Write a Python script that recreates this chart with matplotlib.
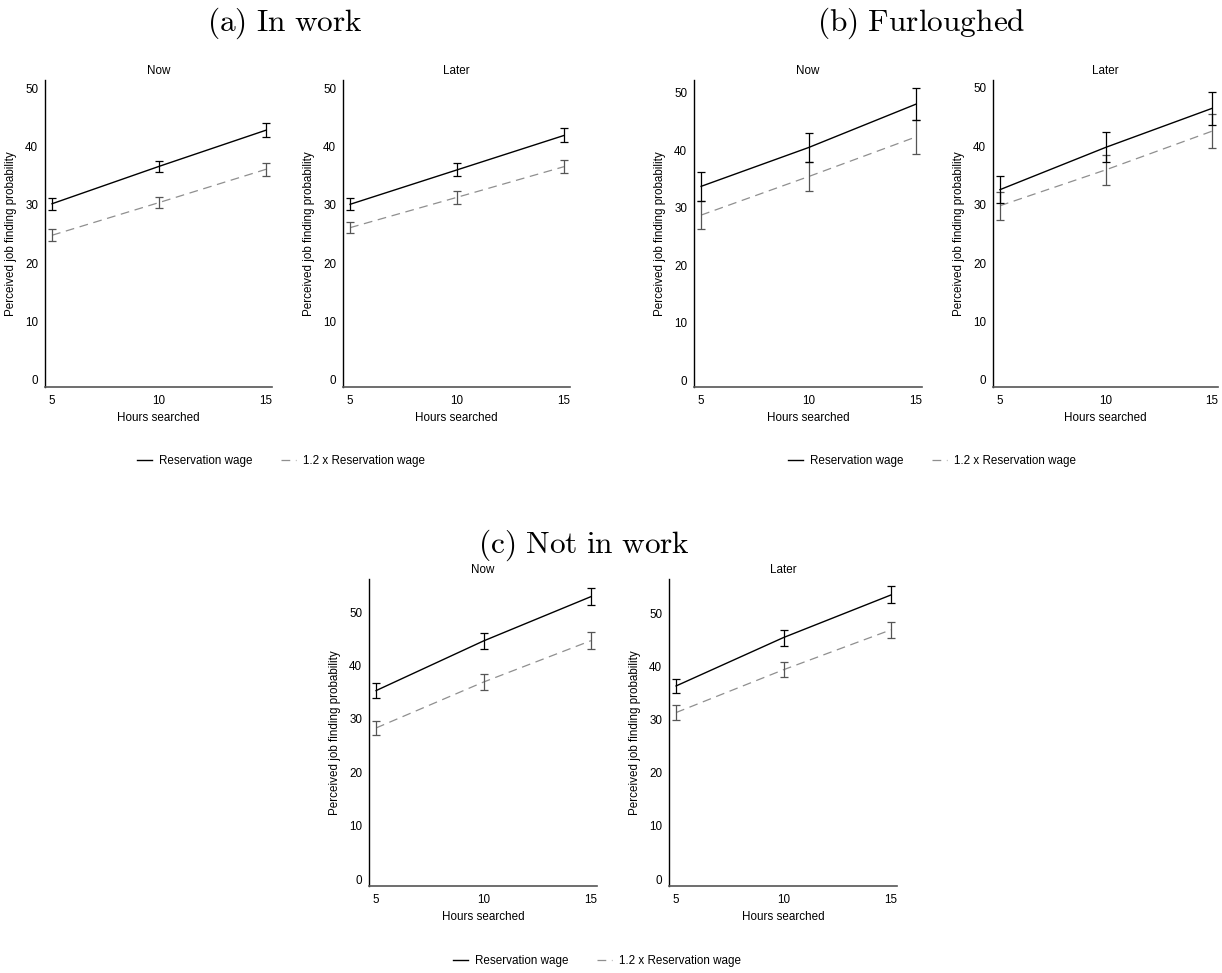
import numpy as np
import matplotlib
matplotlib.use('Agg')
import matplotlib.pyplot as plt

plt.rcParams['font.family'] = ['Liberation Sans', 'DejaVu Sans']
plt.rcParams['mathtext.fontset'] = 'cm'

hours = [5, 10, 15]
horizons = ['Now', 'Later']
groups = ['(a) In work', '(b) Furloughed', '(c) Not in work']
series_labels = ['Reservation wage', '1.2 x Reservation wage']

# mean perceived job finding probability, [Now, Later]
in_work_res = [[30.2, 36.6, 42.8], [30.1, 36.0, 41.9]]
in_work_res_ci = [[1.0, 1.0, 1.15], [1.0, 1.1, 1.2]]
in_work_high = [[24.8, 30.4, 36.1], [26.1, 31.3, 36.55]]
in_work_high_ci = [[1.0, 1.0, 1.15], [1.0, 1.1, 1.15]]

furlough_res = [[33.7, 40.45, 48.0], [32.55, 39.8, 46.45]]
furlough_res_ci = [[2.5, 2.55, 2.8], [2.35, 2.6, 2.85]]
furlough_high = [[28.7, 35.4, 42.3], [29.8, 35.95, 42.55]]
furlough_high_ci = [[2.5, 2.55, 2.9], [2.4, 2.55, 2.95]]

notwork_res = [[35.3, 44.6, 52.9], [36.3, 45.4, 53.4]]
notwork_res_ci = [[1.4, 1.5, 1.65], [1.35, 1.5, 1.6]]
notwork_high = [[28.3, 36.9, 44.65], [31.3, 39.35, 46.85]]
notwork_high_ci = [[1.3, 1.45, 1.6], [1.35, 1.45, 1.55]]

yticks = [0, 10, 20, 30, 40, 50]

W, H = 1222, 973
fig = plt.figure(figsize=(W / 100, H / 100), dpi=100)


def rect(l, t, r, b):
    return [l / W, 1 - b / H, (r - l) / W, (b - t) / H]


# pixel boxes of each panel: (left, top, right, bottom), and y-range
boxes = [
    [(45, 80, 272, 387), (343, 80, 570, 387)],
    [(694, 80, 922, 387), (993, 80, 1218, 387)],
    [(369, 579, 597, 886), (669, 579, 897, 886)],
]
ylims = [
    [(-1.2, 51.4), (-1.2, 51.4)],
    [(-1.2, 52.2), (-1.2, 51.3)],
    [(-1.3, 56.2), (-1.3, 56.4)],
]
legend_pos = [(281, 461), (932, 461), (597, 961)]
data = [
    (in_work_res, in_work_res_ci, in_work_high, in_work_high_ci),
    (furlough_res, furlough_res_ci, furlough_high, furlough_high_ci),
    (notwork_res, notwork_res_ci, notwork_high, notwork_high_ci),
]

fs = 8.4
for g in range(3):
    res, res_ci, high, high_ci = data[g]
    for h in range(2):
        ax = fig.add_axes(rect(*boxes[g][h]))
        ax.plot(hours, high[h], color='#8f8f8f', lw=0.9, dashes=(7, 4.5),
                label=series_labels[1])
        ax.errorbar(hours, high[h], yerr=high_ci[h], fmt='none',
                    ecolor='#555555', elinewidth=0.9, capsize=3, capthick=0.9)
        ax.plot(hours, res[h], color='black', lw=1.0, label=series_labels[0])
        ax.errorbar(hours, res[h], yerr=res_ci[h], fmt='none',
                    ecolor='black', elinewidth=0.9, capsize=3, capthick=0.9)
        ax.set_xlim(4.67, 15.28)
        ax.set_ylim(*ylims[g][h])
        ax.set_xticks(hours)
        ax.set_yticks(yticks)
        ax.tick_params(length=0, labelsize=fs)
        ax.tick_params(axis='y', pad=5)
        ax.tick_params(axis='x', pad=5.5)
        for s in ['top', 'right']:
            ax.spines[s].set_visible(False)
        ax.spines['left'].set_color('black')
        ax.spines['bottom'].set_color('#555555')
        ax.spines['left'].set_linewidth(1.0)
        ax.spines['bottom'].set_linewidth(1.2)
        ax.set_title(horizons[h], fontsize=fs, pad=4)
        ax.set_xlabel('Hours searched', fontsize=fs, labelpad=4)
        ax.set_ylabel('Perceived job finding probability', fontsize=fs,
                      labelpad=6)
        if h == 0:
            handles, labels = ax.get_legend_handles_labels()
            handles = [handles[1], handles[0]]
            labels = [labels[1], labels[0]]
            cx, ly = legend_pos[g]
            fig.legend(handles, labels, loc='center', ncol=2, frameon=False,
                       fontsize=fs, handlelength=1.3, columnspacing=2.4,
                       handletextpad=0.6,
                       bbox_to_anchor=(cx / W, 1 - ly / H))

title_pos = [(285, 23), (921, 23), (584, 545)]
for g in range(3):
    x, y = title_pos[g]
    txt = r'$\mathrm{' + groups[g].replace(' ', r'\ ') + '}$'
    fig.text(x / W, 1 - y / H, txt, fontsize=22.6, ha='center', va='center')

fig.savefig('out.png', dpi=100)
